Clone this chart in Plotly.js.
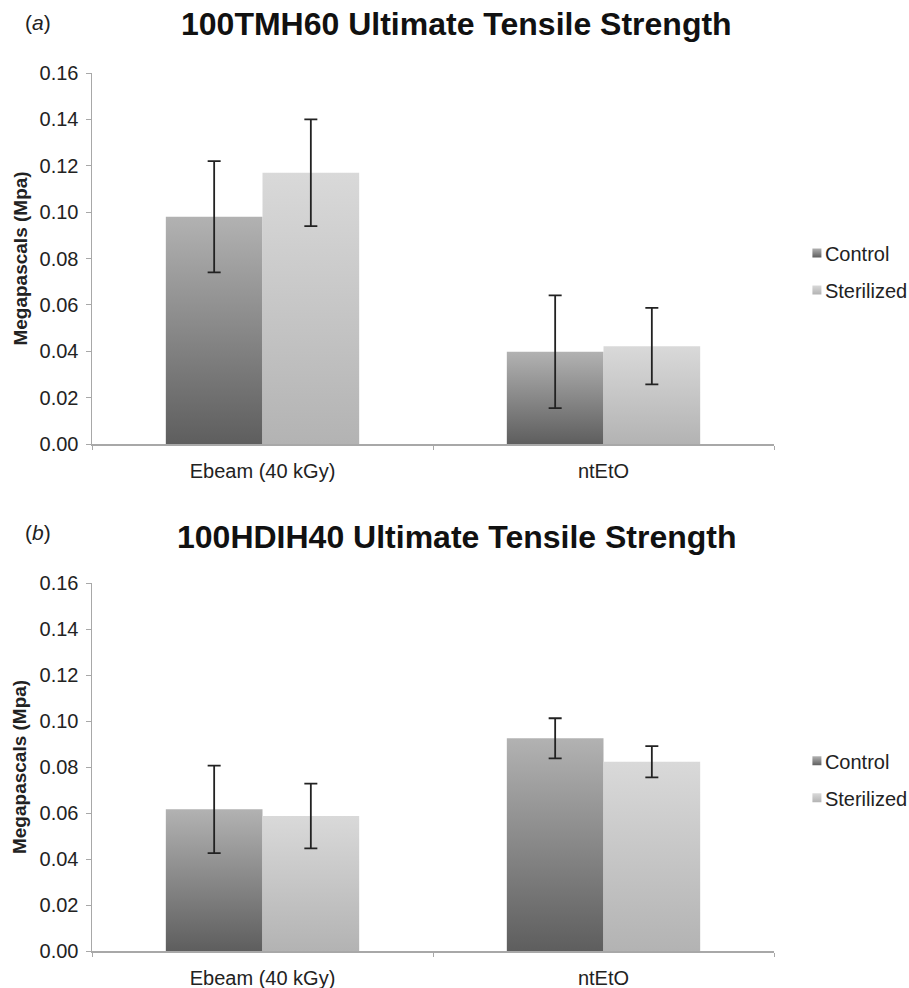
<!DOCTYPE html>
<html>
<head>
<meta charset="utf-8">
<script src="https://cdn.plot.ly/plotly-3.0.1.min.js"></script>
<style>
  html, body { margin: 0; padding: 0; background: #ffffff; }
  #chart { width: 909px; height: 988px; }
</style>
</head>
<body>
<div id="chart"></div>
<script>
// ---- data ----
const categories = ['Ebeam (40 kGy)', 'ntEtO'];
const seriesNames = ['Control', 'Sterilized'];

// (a) 100TMH60
const tmhControl = [0.098, 0.0398];
const tmhControlErr = [0.024, 0.0243];
const tmhSterilized = [0.117, 0.0422];
const tmhSterilizedErr = [0.023, 0.0165];

// (b) 100HDIH40
const hdiControl = [0.0616, 0.0925];
const hdiControlErr = [0.019, 0.0087];
const hdiSterilized = [0.0587, 0.0823];
const hdiSterilizedErr = [0.0141, 0.0068];

const yTickVals = [0, 0.02, 0.04, 0.06, 0.08, 0.10, 0.12, 0.14, 0.16];
const yTickText = ['0.00', '0.02', '0.04', '0.06', '0.08', '0.10', '0.12', '0.14', '0.16'];

const titleA = '100TMH60 Ultimate Tensile Strength';
const titleB = '100HDIH40 Ultimate Tensile Strength';
const yTitle = 'Megapascals (Mpa)';

// ---- styles ----
const FONT = 'Liberation Sans, Arial, sans-serif';
const controlColor = '#8a8a8a';
const sterilizedColor = '#c8c8c8';
const errStyle = { type: 'data', visible: true, color: '#222222', thickness: 1.8, width: 6.5 };

function bar(name, y, err, xa, ya, legend, group, color) {
  return {
    type: 'bar', name: name, x: categories, y: y,
    xaxis: xa, yaxis: ya, legend: legend, legendgroup: group,
    marker: { color: color, line: { width: 0 } },
    error_y: Object.assign({ array: err }, errStyle),
    hoverinfo: 'skip'
  };
}

const data = [
  bar(seriesNames[0], tmhControl, tmhControlErr, 'x', 'y', 'legend', 'c1', controlColor),
  bar(seriesNames[1], tmhSterilized, tmhSterilizedErr, 'x', 'y', 'legend', 's1', sterilizedColor),
  bar(seriesNames[0], hdiControl, hdiControlErr, 'x2', 'y2', 'legend2', 'c2', controlColor),
  bar(seriesNames[1], hdiSterilized, hdiSterilizedErr, 'x2', 'y2', 'legend2', 's2', sterilizedColor)
];

const axisLine = '#a8a8a8';
function xAxis(anchor) {
  return {
    anchor: anchor, domain: [0, 1], type: 'category', range: [-0.5, 1.5],
    showline: true, linecolor: axisLine, linewidth: 1.5,
    ticks: 'outside', tickson: 'boundaries', ticklen: 4, tickcolor: axisLine, tickwidth: 1,
    ticklabelstandoff: 8,
    tickfont: { family: FONT, size: 20, color: '#222' },
    showgrid: false, zeroline: false, fixedrange: true
  };
}
function yAxis(anchor, domain) {
  return {
    anchor: anchor, domain: domain, range: [0, 0.16],
    tickvals: yTickVals, ticktext: yTickText,
    showline: true, linecolor: axisLine, linewidth: 1.5,
    ticks: 'outside', ticklen: 5, tickcolor: axisLine, tickwidth: 1,
    ticklabelstandoff: 3,
    tickfont: { family: FONT, size: 20, color: '#222' },
    showgrid: false, zeroline: false, fixedrange: true
  };
}

const legendBase = {
  xref: 'paper', yref: 'paper', x: 1.016, xanchor: 'left', yanchor: 'middle',
  font: { family: FONT, size: 20, color: '#222' },
  traceorder: 'grouped', tracegroupgap: 8, bgcolor: 'rgba(0,0,0,0)', borderwidth: 0
};

const layout = {
  width: 909, height: 988,
  margin: { l: 92, r: 135, t: 73, b: 37, autoexpand: false },
  paper_bgcolor: '#ffffff', plot_bgcolor: '#ffffff',
  font: { family: FONT, color: '#222' },
  barmode: 'group', bargap: 0.433, bargroupgap: 0,
  showlegend: true,
  xaxis: xAxis('y'),
  yaxis: yAxis('x', [0.5774, 1]),
  xaxis2: xAxis('y2'),
  yaxis2: yAxis('x2', [0, 0.4191]),
  legend: Object.assign({}, legendBase, { y: 0.774 }),
  legend2: Object.assign({}, legendBase, { y: 0.1955 }),
  annotations: [
    { text: '<b>' + titleA + '</b>', xref: 'paper', yref: 'paper', x: 0.535, y: 1.0558,
      xanchor: 'center', yanchor: 'middle', showarrow: false,
      font: { family: FONT, size: 32, color: '#111' } },
    { text: '(<i>a</i>)', xref: 'paper', yref: 'paper', x: -0.079, y: 1.058,
      xanchor: 'center', yanchor: 'middle', showarrow: false,
      font: { family: FONT, size: 21, color: '#222' } },
    { text: '<b>' + titleB + '</b>', xref: 'paper', yref: 'paper', x: 0.535, y: 0.4715,
      xanchor: 'center', yanchor: 'middle', showarrow: false,
      font: { family: FONT, size: 32, color: '#111' } },
    { text: '(<i>b</i>)', xref: 'paper', yref: 'paper', x: -0.079, y: 0.477,
      xanchor: 'center', yanchor: 'middle', showarrow: false,
      font: { family: FONT, size: 21, color: '#222' } },
    { text: '<b>' + yTitle + '</b>', xref: 'paper', yref: 'paper', x: -0.1055, y: 0.7887,
      xanchor: 'center', yanchor: 'middle', textangle: -90, showarrow: false,
      font: { family: FONT, size: 19, color: '#222' } },
    { text: '<b>' + yTitle + '</b>', xref: 'paper', yref: 'paper', x: -0.1055, y: 0.2096,
      xanchor: 'center', yanchor: 'middle', textangle: -90, showarrow: false,
      font: { family: FONT, size: 19, color: '#222' } }
  ]
};

const gradients = {
  'Control': [['0%', '#5e5e5e'], ['100%', '#b2b2b2']],
  'Sterilized': [['0%', '#b3b3b3'], ['100%', '#d9d9d9']]
};

function addGradients(gd) {
  const svg = gd.querySelector('svg.main-svg');
  const defs = svg.querySelector('defs');
  const NS = 'http://www.w3.org/2000/svg';
  Object.keys(gradients).forEach(function (name) {
    const g = document.createElementNS(NS, 'linearGradient');
    g.setAttribute('id', 'grad-' + name);
    g.setAttribute('x1', '0'); g.setAttribute('y1', '1');
    g.setAttribute('x2', '0'); g.setAttribute('y2', '0');
    gradients[name].forEach(function (st) {
      const s = document.createElementNS(NS, 'stop');
      s.setAttribute('offset', st[0]);
      s.setAttribute('stop-color', st[1]);
      g.appendChild(s);
    });
    defs.appendChild(g);
  });
  gd.querySelectorAll('.barlayer .trace').forEach(function (tg) {
    const cd = tg.__data__;
    const name = cd && cd[0] && cd[0].trace ? cd[0].trace.name : null;
    if (!name || !gradients[name]) return;
    tg.querySelectorAll('.point path').forEach(function (p) {
      p.style.fill = 'url(#grad-' + name + ')';
    });
  });
  gd.querySelectorAll('.legend .traces, .legend2 .traces').forEach(function (tg) {
    const cd = tg.__data__;
    const name = cd && cd[0] && cd[0].trace ? cd[0].trace.name : null;
    if (!name || !gradients[name]) return;
    tg.querySelectorAll('.legendpoints path').forEach(function (p) {
      p.setAttribute('d', 'M4.5,4.5H-4.5V-4.5H4.5Z');
      p.setAttribute('transform', 'translate(32,0)');
      p.style.fill = 'url(#grad-' + name + ')';
      p.style.stroke = 'none';
    });
  });
}

Plotly.newPlot('chart', data, layout, { staticPlot: true, displayModeBar: false })
  .then(addGradients);
</script>
</body>
</html>
